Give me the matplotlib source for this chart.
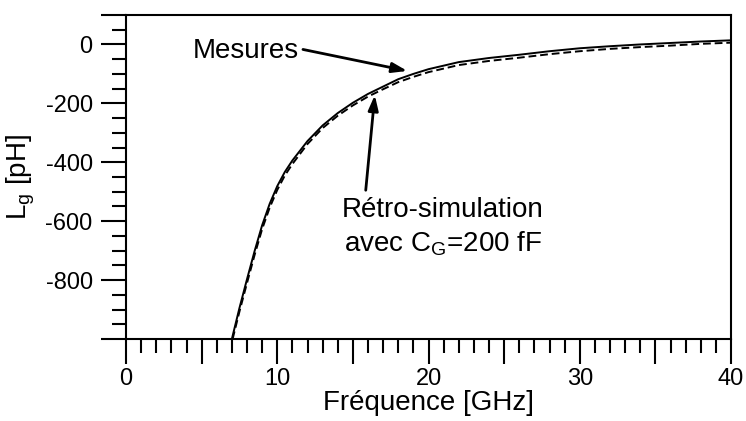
import matplotlib
matplotlib.use("Agg")
import matplotlib.pyplot as plt
from matplotlib.ticker import MultipleLocator, FixedLocator, FuncFormatter

plt.rcParams['font.family'] = ['Liberation Sans', 'DejaVu Sans']
plt.rcParams['mathtext.fontset'] = 'custom'
plt.rcParams['mathtext.rm'] = 'Liberation Sans'

# values (frequency in GHz, Lg in pH)
freq_mes = [7.0, 7.5, 8.0, 8.5, 9.0, 9.5, 10, 10.5, 11, 12, 13, 14, 15, 16,
            17, 18, 19, 20, 22, 24, 26, 28, 30, 32, 34, 36, 38, 40]
lg_mes = [-1000, -895, -797, -702, -614, -541, -481, -433, -394, -328, -275,
          -233, -198, -168, -143, -118, -100, -84, -60, -46, -35, -23, -13,
          -6, 0, 5, 10, 14]

freq_sim = [7.05, 7.5, 8.0, 8.5, 9.0, 9.5, 10, 10.5, 11, 12, 13, 14, 15, 16,
            17, 18, 19, 20, 22, 24, 26, 28, 30, 32, 34, 36, 38, 40]
lg_sim = [-1000, -907, -810, -715, -627, -554, -494, -445, -406, -338, -284,
          -242, -207, -177, -152, -128, -110, -94, -70, -56, -45, -33, -23,
          -15, -9, -4, 2, 6]

fig = plt.figure(figsize=(7.46, 4.21), dpi=100)
ax = fig.add_axes([0.1689, 0.1948, 0.8110, 0.7696])

ax.plot(freq_mes, lg_mes, color='black', lw=1.4)
ax.plot(freq_sim, lg_sim, color='black', lw=1.4, ls=(0, (4, 2)))

ax.set_xlim(0, 40)
ax.set_ylim(-1000, 100)

for s in ax.spines.values():
    s.set_linewidth(1.5)

ax.xaxis.set_major_locator(MultipleLocator(5))
ax.xaxis.set_minor_locator(MultipleLocator(1))
ax.xaxis.set_major_formatter(FuncFormatter(
    lambda v, p: f"{v:.0f}" if round(v) % 10 == 0 else ""))

ax.yaxis.set_major_locator(FixedLocator([-1000, -800, -600, -400, -200, 0, 100]))
ax.yaxis.set_minor_locator(MultipleLocator(50))
ax.yaxis.set_major_formatter(FuncFormatter(
    lambda v, p: f"{v:.0f}" if -1000 < v < 100 else ""))

ax.tick_params(which='major', direction='out', length=18, width=1.5,
               labelsize=17)
ax.tick_params(which='minor', direction='out', length=10, width=1.5)
ax.tick_params(axis='x', which='major', pad=3)
ax.tick_params(axis='y', which='major', pad=6)

ax.set_xlabel('Fréquence [GHz]', fontsize=20, labelpad=0)
ax.set_ylabel(r'L$_\mathregular{g}$ [pH]', fontsize=20, labelpad=6)

arrow = dict(arrowstyle='-|>,head_length=0.9,head_width=0.3',
             color='black', lw=2, shrinkA=0, shrinkB=0)

ax.text(4.43, -47, 'Mesures', fontsize=20, ha='left', va='baseline')
ax.annotate('', xy=(18.6, -90), xytext=(11.7, -17), arrowprops=arrow)

ax.text(20.96, -587, 'Rétro-simulation', fontsize=20, ha='center',
        va='baseline')
ax.text(20.96, -702, r'avec C$_\mathregular{G}$=200 fF', fontsize=20,
        ha='center', va='baseline')
ax.annotate('', xy=(16.45, -172), xytext=(15.85, -495), arrowprops=arrow)

fig.savefig('out.png', dpi=100)
